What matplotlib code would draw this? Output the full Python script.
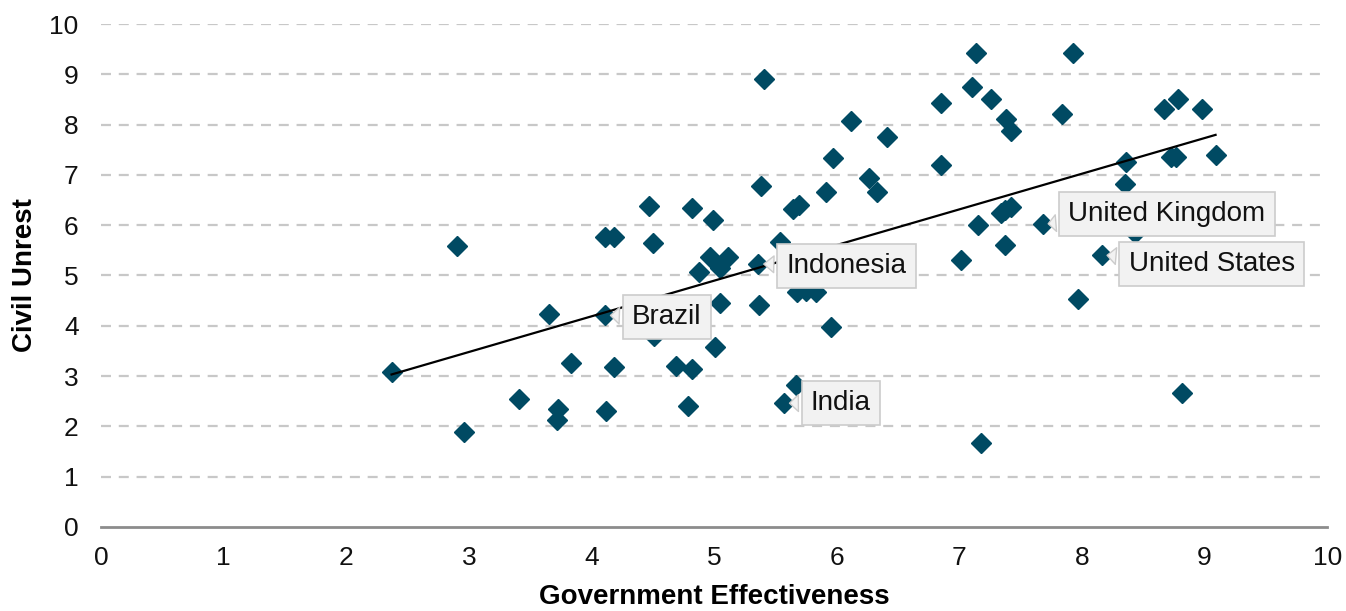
import numpy as np
import matplotlib
matplotlib.use("Agg")
import matplotlib.pyplot as plt

plt.rcParams['font.family'] = ['Liberation Sans', 'DejaVu Sans']

gov_effectiveness = [
    2.37, 2.90, 2.96, 3.41, 3.65, 3.73, 3.72, 3.83, 4.11, 4.18,
    4.11, 4.18, 4.12, 4.47, 4.50, 4.51, 4.69, 4.82, 4.79, 4.82,
    4.99, 4.97, 5.11, 5.05, 4.88, 5.05, 5.01, 5.36, 5.37, 5.38,
    5.41, 5.54, 5.57, 5.67, 5.64, 5.69, 5.68, 5.75, 5.83, 5.91,
    5.95, 5.97, 6.12, 6.26, 6.33, 6.41, 6.85, 6.85, 7.01, 7.10,
    7.14, 7.15, 7.18, 7.26, 7.38, 7.42, 7.37, 7.34, 7.42, 7.37,
    7.68, 7.84, 7.93, 7.97, 8.16, 8.36, 8.35, 8.43, 8.67, 8.73,
    8.77, 8.78, 8.82, 8.98, 9.09,
]
civil_unrest = [
    3.09, 5.59, 1.88, 2.54, 4.23, 2.35, 2.13, 3.27, 5.76, 5.76,
    4.21, 3.19, 2.31, 6.38, 5.64, 3.80, 3.21, 3.15, 2.40, 6.34,
    6.10, 5.37, 5.37, 5.14, 5.06, 4.45, 3.57, 5.23, 4.41, 6.77,
    8.91, 5.67, 2.46, 2.82, 6.32, 6.40, 4.67, 4.70, 4.67, 6.67,
    3.98, 7.33, 8.07, 6.93, 6.67, 7.76, 8.42, 7.20, 5.31, 8.75,
    9.42, 6.00, 1.66, 8.50, 8.12, 7.87, 5.61, 6.25, 6.37, 6.30,
    6.02, 8.21, 9.42, 4.54, 5.41, 7.26, 6.82, 5.84, 8.32, 7.36,
    7.36, 8.50, 2.66, 8.32, 7.40,
]

# labelled countries: name, point (x, y), text anchor (x, y)
label_names = ["Brazil", "Indonesia", "India", "United Kingdom", "United States"]
label_points = [(4.11, 4.21), (5.36, 5.23), (5.57, 2.46), (7.68, 6.02), (8.16, 5.41)]
label_text_pos = [(4.33, 4.17), (5.59, 5.19), (5.79, 2.47), (7.89, 6.22), (8.38, 5.23)]

x_ticks = list(range(0, 11))
y_ticks = list(range(0, 11))

fig = plt.figure(figsize=(13.46, 6.11), dpi=100)
ax = fig.add_axes([0.075, 0.1375, 0.911, 0.8232])

ax.set_xlim(0, 10)
ax.set_ylim(0, 10)
ax.set_xticks(x_ticks)
ax.set_yticks(y_ticks)
ax.tick_params(axis='both', length=0, labelsize=19, colors='#111111')
ax.tick_params(axis='x', pad=14)
ax.tick_params(axis='y', pad=16)

for s in ['top', 'right', 'left']:
    ax.spines[s].set_visible(False)
ax.spines['bottom'].set_color('#8c8c8c')
ax.spines['bottom'].set_linewidth(2)

for yv in y_ticks[1:]:
    ax.axhline(yv, color='#c8c8c8', lw=1.6, dashes=(4.5, 3.5), zorder=0)

x = np.array(gov_effectiveness)
y = np.array(civil_unrest)
ax.plot(x, y, linestyle='none', marker='D', ms=10, color='#004A63', zorder=3)

coef = np.polyfit(x, y, 1)
xs = np.array([x.min(), x.max()])
ax.plot(xs, np.polyval(coef, xs), color='black', lw=1.6, zorder=4)

for name, pt, tp in zip(label_names, label_points, label_text_pos):
    ax.annotate(name, xy=pt, xytext=tp, fontsize=20, color='#111111',
                ha='left', va='center', zorder=6,
                bbox=dict(boxstyle='square,pad=0.33', fc='#f2f2f2', ec='#cccccc', lw=1.2),
                arrowprops=dict(arrowstyle='wedge,tail_width=0.6,shrink_factor=0.5',
                                fc='#f2f2f2', ec='#cccccc', lw=1.0, shrinkB=4))

ax.set_xlabel('Government Effectiveness', fontsize=20, fontweight='bold', labelpad=10)
ax.set_ylabel('Civil Unrest', fontsize=20, fontweight='bold', labelpad=8)

fig.savefig('out.png', dpi=100)
